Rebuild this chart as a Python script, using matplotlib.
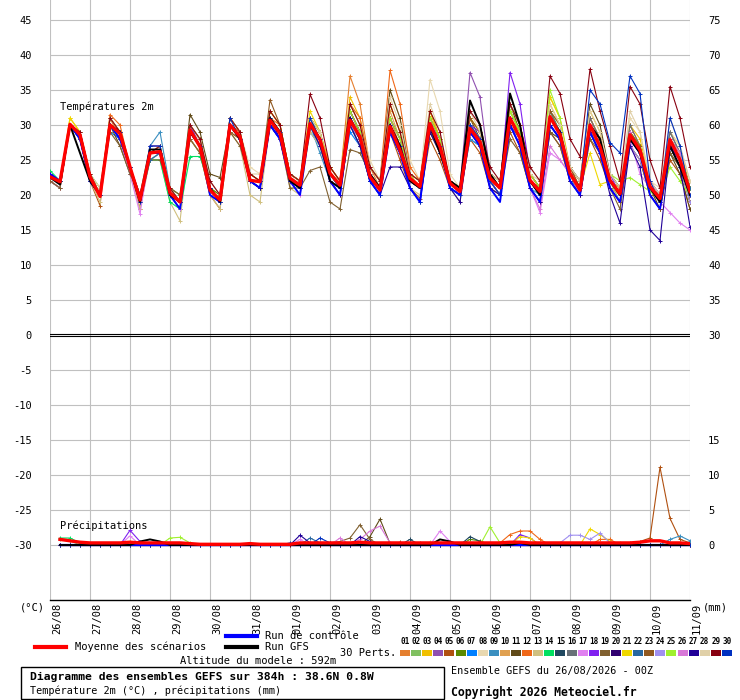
import numpy as np
import matplotlib
matplotlib.use("Agg")
import matplotlib.pyplot as plt
from matplotlib.lines import Line2D
from matplotlib.patches import Rectangle
from matplotlib.transforms import ScaledTranslation

plt.rcParams['font.family'] = ['DejaVu Sans Mono']

# ---- data -------------------------------------------------------------
hours = np.arange(65) * 6
day_labels = ['26/08', '27/08', '28/08', '29/08', '30/08', '31/08', '01/09', '02/09',
              '03/09', '04/09', '05/09', '06/09', '07/09', '08/09', '09/09', '10/09', '11/09']

pert_colors = ['#E57F2F', '#80C060', '#F0C000', '#9050B0', '#B05010', '#5A8A00', '#0080FF',
               '#E8D8B0', '#3A8FC0', '#E0A050', '#604A18', '#F06818', '#D0C080', '#00E060',
               '#204860', '#687078', '#E080F0', '#8020F0', '#806030', '#300070', '#F0D800',
               '#2868A0', '#905820', '#A090F0', '#A0F030', '#D878D8', '#200098', '#E0D0A8',
               '#880010', '#0030C0']

temp_mean = [22.6, 21.9, 30.1, 28.6, 22.6, 19.8, 30.0, 28.8, 24.0, 19.3, 26.0, 26.2, 20.3, 19.0,
             29.3, 26.9, 20.7, 19.3, 30.0, 28.3, 22.1, 21.9, 30.7, 28.8, 22.4, 21.4, 30.2, 27.9,
             23.1, 21.4, 30.7, 28.3, 22.6, 20.7, 29.8, 26.4, 22.4, 21.2, 30.2, 26.9, 21.7, 20.5,
             29.5, 27.6, 22.4, 21.0, 31.0, 28.1, 22.1, 20.5, 31.2, 28.6, 23.1, 20.7, 30.0, 26.9,
             22.1, 20.2, 28.6, 26.4, 21.2, 19.5, 27.9, 25.0, 20.5]

temp_ctrl = [23, 22, 30, 28, 22, 20, 30, 28, 24, 19, 26, 26, 20, 18, 29, 27, 20, 19, 30, 28,
             22, 21, 30, 28, 22, 20, 30, 28, 22, 20, 31, 28, 22, 20, 29, 26, 21, 19, 30, 27,
             21, 20, 29, 27, 21, 19, 30, 27, 21, 19, 30, 28, 22, 20, 29, 26, 21, 19, 28, 26,
             20, 18, 27, 25, 20]

temp_gfs = [22.5, 21.5, 30, 26, 22, 20, 30, 29, 24, 19, 26.5, 26.5, 20, 19, 29, 27, 21, 19, 30, 28,
            22, 22, 31, 29, 22, 21, 30, 28, 22, 21, 31, 28, 23, 21, 30, 27, 22, 21, 30, 26,
            22, 21, 33.5, 30, 23, 21, 34.5, 30, 22, 20, 31, 29, 23, 21, 30, 28, 22, 20, 28, 26,
            21, 19, 27, 24, 20]

temp_perts = [
    [23, 22, 30, 29, 22, 20, 31, 28, 24, 19, 26, 27, 20, 18, 30, 27, 21, 19, 31, 29, 22, 21, 31, 29, 23, 22, 31, 29, 24, 22, 37, 33, 24, 21, 31, 27, 23, 22, 31, 28, 22, 21, 30, 28, 23, 21, 32, 29, 23, 21, 32, 29, 24, 21, 31, 28, 23, 21, 30, 27, 22, 20, 28, 25, 21],
    [23, 22, 30, 28, 23, 20, 30, 28, 24, 19, 25, 26, 21, 19, 28, 26, 20, 19, 29, 28, 22, 21, 30, 28, 22, 21, 30, 28, 22, 21, 31, 29, 23, 21, 29, 26, 22, 21, 29, 27, 21, 20, 30, 28, 22, 20, 30, 27, 22, 20, 30, 28, 23, 20, 29, 26, 22, 19, 29, 27, 21, 19, 26, 24, 19],
    [23, 22, 31, 29, 23, 20, 31, 29, 24, 20, 27, 27, 20, 19, 30, 28, 21, 20, 31, 29, 23, 22, 32, 30, 23, 22, 31, 29, 23, 22, 34, 31, 24, 22, 33, 29, 23, 22, 32, 28, 22, 21, 31, 29, 23, 22, 33, 30, 23, 21, 34, 31, 24, 22, 32, 29, 22, 21, 30, 28, 22, 20, 29, 27, 21],
    [22, 21, 30, 28, 22, 20, 30, 29, 23, 19, 26, 26, 20, 19, 29, 27, 21, 19, 30, 28, 22, 22, 31, 29, 22, 21, 30, 28, 23, 21, 32, 29, 23, 21, 30, 27, 22, 21, 31, 28, 22, 21, 37.5, 34, 23, 21, 31, 28, 22, 20, 31, 29, 23, 21, 30, 27, 22, 20, 29, 26, 21, 19, 28, 25, 20],
    [22, 21, 30, 29, 22, 18.5, 31, 29, 24, 18, 26, 26, 20, 18, 28, 26, 20, 18, 29, 28, 22, 21, 30, 28, 22, 21, 30, 27, 22, 20, 30, 27, 22, 20, 29, 25, 21, 19.5, 28, 25, 21, 20, 28, 26, 21, 20, 29, 26, 21, 19, 29, 27, 22, 20, 28, 25, 21, 19, 27, 25, 20, 18, 25, 23, 18],
    [23, 22, 30, 28, 23, 21, 30, 28, 24, 20, 26, 26, 21, 20, 29, 27, 21, 20, 30, 28, 22, 22, 30, 29, 22, 21, 30, 28, 23, 21, 31, 28, 23, 21, 30, 27, 22, 21, 30, 27, 22, 21, 29, 28, 22, 21, 31, 28, 22, 20, 32, 30, 23, 21, 31, 28, 22, 20, 28, 26, 21, 19, 27, 25, 19],
    [23, 22, 30, 28, 22, 20, 29, 28, 23, 19, 25, 26, 20, 19, 30, 27, 21, 19, 30, 28, 22, 22, 30, 28, 22, 21, 29, 27, 23, 21, 29, 27, 22, 20, 29, 26, 22, 21, 30, 26, 22, 21, 28, 27, 22, 20, 31, 28, 22, 20, 30, 28, 23, 21, 29, 26, 22, 20, 28, 26, 21, 19, 27, 24, 20],
    [23, 22, 30, 29, 23, 21, 31, 29, 24, 19, 25, 26, 21, 19, 29, 28, 22, 20, 30, 29, 24, 23, 31, 29, 23, 22, 31, 29, 23, 21, 33, 30, 25, 22, 35, 31, 25, 22, 36.5, 32, 23, 21, 30, 28, 23, 22, 31, 29, 24, 22, 32, 30, 24, 22, 31, 28, 23, 21, 31, 29, 22, 21, 29, 27, 22],
    [23, 22, 30, 28, 22, 20, 30, 28, 24, 20, 27, 29, 21, 19, 29, 27, 21, 19, 30, 28, 22, 22, 30, 28, 22, 21, 30, 26, 22, 21, 30, 27, 22, 21, 29, 26, 22, 21, 29, 26, 21, 20, 28, 27, 22, 21, 30, 27, 21, 20, 30, 28, 22, 21, 29, 27, 22, 20, 28, 26, 21, 20, 29, 26, 21],
    [23, 22, 30, 29, 23, 20, 30, 28, 24, 19, 26, 27, 20, 18, 29, 27, 21, 19, 30, 28, 22, 22, 31, 29, 22, 21, 31, 28, 23, 21, 32, 29, 23, 21, 32, 28, 22, 21, 31, 28, 22, 20, 30, 29, 22, 21, 32, 29, 22, 21, 33, 30, 23, 21, 30, 27, 21, 20, 29, 27, 21, 19, 29, 26, 20],
    [22, 21, 30, 28, 22, 20, 30, 27, 23, 19, 26, 26, 21, 19, 31.5, 29, 23, 22.5, 30, 29, 22, 22, 31, 29, 23, 22, 31, 28, 24, 22, 32, 29, 24, 22, 35, 31, 23, 22, 30, 27, 22, 20, 31, 28, 23, 22, 33, 29, 22, 21, 29, 28, 24, 22, 33, 30, 23, 21, 29, 26, 21, 18, 26, 23, 18],
    [23, 22, 30, 29, 22, 20, 31.5, 30, 24, 19, 26, 26, 20, 19, 29, 27, 21, 19, 30, 29, 22, 22, 31, 30, 23, 22, 31, 29, 23, 21, 33, 31, 24, 22, 37.8, 33, 24, 22, 32, 28, 22, 21, 31, 29, 23, 21, 31, 29, 23, 21, 31, 29, 24, 21, 31, 28, 22, 20, 29, 26, 21, 19, 28, 25, 19],
    [22, 21, 30, 28, 22, 19, 30, 28, 23, 18, 25, 25, 19, 16.3, 28, 26, 20, 18, 29, 27, 20, 19, 30, 28, 21, 20, 29, 27, 22, 20, 30, 27, 22, 20, 29, 26, 21, 20, 29, 26, 21, 19, 29, 27, 22, 20, 30, 27, 22, 20, 31, 29, 23, 21, 30, 27, 22, 20, 28, 26, 21, 20, 28, 25, 20],
    [23.5, 22, 30, 29, 23, 20, 30, 28, 24, 19, 25, 25, 19, 18, 25.5, 25.5, 21, 19, 30, 28, 22, 21, 30, 28, 22, 21, 30, 28, 23, 21, 31, 28, 22, 21, 30, 27, 22, 21, 30, 27, 22, 20, 30, 28, 22, 21, 32, 29, 22, 20, 32, 29, 23, 21, 30, 27, 22, 20, 29, 27, 21, 19, 28, 26, 21],
    [23, 22, 30, 28, 23, 20, 30, 28, 24, 19, 26, 26, 20, 19, 29, 27, 21, 19, 30, 28, 22, 21, 30, 28, 22, 21, 30, 28, 23, 21, 30, 28, 22, 21, 30, 27, 22, 21, 29, 27, 22, 20, 29, 28, 22, 21, 31, 28, 22, 21, 31, 29, 23, 20, 30, 27, 22, 20, 29, 26, 21, 19, 28, 26, 21],
    [23, 22, 30, 28, 23, 20, 30, 28, 24, 19, 26, 26, 21, 19, 29, 27, 21, 19, 30, 28, 22, 22, 31, 29, 22, 21, 30, 28, 23, 21, 31, 28, 23, 21, 30, 27, 22, 21, 30, 27, 22, 20, 30, 28, 22, 21, 31, 28, 22, 21, 32, 29, 24, 22, 31, 28, 23, 21, 30, 27, 21, 20, 29, 26, 21],
    [22, 21, 30, 28, 22, 20, 30, 28, 23, 17.3, 26, 27, 20, 18, 29, 27, 21, 19, 30, 28, 22, 22, 31, 29, 22, 20, 30, 28, 23, 21, 31, 28, 23, 21, 31, 28, 22, 21, 31, 27, 22, 20, 30, 28, 22, 21, 30, 27, 21, 17.5, 26, 25, 23, 20, 30, 27, 22, 20, 28, 23, 21, 19, 17.5, 16, 15],
    [23, 22, 30, 28, 22, 20, 30, 29, 24, 19, 27, 27, 20, 19, 30, 27, 21, 19, 30, 28, 22, 22, 31, 29, 22, 21, 31, 29, 23, 21, 32, 29, 23, 21, 31, 28, 22, 21, 30, 28, 22, 20, 30, 29, 23, 21, 37.5, 33, 23, 21, 31, 29, 23, 21, 30, 28, 23, 20, 29, 26, 22, 20, 28, 26, 20],
    [22, 21, 30, 28, 22, 20, 29, 27, 23, 20, 25, 25, 21, 20, 28, 26, 21, 19, 29, 27, 22, 21, 30, 28, 21, 21, 23.5, 24, 19, 18, 26.5, 26, 23, 21, 29, 26, 22, 21, 29, 26, 22, 20, 29, 27, 22, 20, 28, 26, 21, 19, 29, 27, 22, 20, 28, 26, 21, 18, 27, 25, 20, 18, 26, 24, 19],
    [23, 22, 30, 28, 23, 20, 30, 28, 24, 19, 26, 26, 20, 19, 29, 27, 21, 19, 30, 28, 22, 22, 31, 28, 22, 21, 30, 28, 23, 21, 31, 28, 22, 21, 30, 26, 22, 21, 30, 27, 22, 20, 29, 27, 22, 20, 31, 28, 22, 20, 31, 29, 23, 21, 30, 27, 22, 20, 28, 26, 21, 19, 28, 25, 20],
    [23, 22, 31, 29, 23, 20, 31, 29, 24, 19, 26, 27, 21, 19, 30, 28, 21, 19, 31, 29, 23, 22, 32, 30, 23, 22, 32, 29, 24, 22, 33, 30, 24, 22, 33, 29, 23, 22, 32, 28, 22, 21, 31, 29, 23, 21, 32, 29, 23, 21, 34, 31, 23, 21, 26, 21.5, 22, 20, 29, 27, 21, 20, 28, 26, 21],
    [23, 22, 30, 28, 22, 20, 30, 28, 24, 19, 25, 26, 20, 19, 29, 27, 21, 19, 30, 28, 22, 21, 30, 28, 22, 21, 30, 27, 23, 21, 30, 27, 22, 21, 29, 26, 22, 21, 30, 26, 22, 20, 30, 28, 22, 21, 30, 28, 22, 20, 30, 28, 23, 21, 29, 27, 22, 20, 29, 26, 21, 20, 28, 25, 21],
    [23, 22, 30, 29, 23, 20, 31, 29, 24, 19, 26, 26, 20, 19, 30, 28, 21, 19, 31, 29, 23, 22, 33.6, 30, 23, 22, 31, 29, 23, 21, 32, 29, 23, 21, 31, 28, 23, 22, 31, 28, 22, 21, 31, 29, 23, 21, 33, 30, 23, 21, 32, 30, 24, 21, 30, 28, 22, 20, 29, 27, 20, 18, 27, 25, 19],
    [23, 22, 30, 28, 23, 20, 30, 28, 24, 19, 26, 26, 20, 19, 29, 27, 21, 19, 30, 28, 22, 22, 30, 28, 22, 21, 30, 28, 22, 21, 30, 28, 23, 21, 30, 26, 22, 21, 30, 27, 22, 20, 29, 27, 22, 21, 31, 28, 22, 20, 31, 29, 23, 21, 29, 26, 22, 20, 27, 25, 21, 19, 27, 24, 19],
    [23, 22, 30, 28, 23, 20, 30, 28, 24, 19, 26, 26, 20, 19, 29, 27, 21, 19, 30, 28, 22, 22, 31, 29, 23, 22, 31, 29, 23, 21, 32, 29, 23, 21, 31, 28, 23, 21, 31, 28, 22, 21, 30, 28, 22, 21, 32, 29, 23, 21, 35, 31, 23, 21, 29, 27, 23, 22, 22.5, 21.5, 20.5, 19.5, 24, 22, 20],
    [23, 22, 30, 28, 22, 20, 30, 28, 24, 19, 26, 26, 20, 19, 29, 27, 21, 19, 30, 28, 22, 22, 30, 28, 22, 21, 30, 28, 23, 21, 31, 28, 23, 21, 30, 27, 22, 21, 30, 27, 22, 20, 30, 28, 22, 20, 30, 27, 21, 18, 27, 25, 23, 21, 30, 27, 22, 20, 29, 26, 21, 19, 28, 26, 20],
    [23, 22, 30, 28, 22, 20, 30, 28, 24, 19, 26, 26, 20, 19, 29, 27, 21, 19, 30, 28, 22, 21, 30, 28, 22, 21, 30, 27, 22, 20, 30, 27, 22, 20, 24, 24, 21, 19, 29, 26, 21, 19, 29, 27, 21, 20, 30, 27, 21, 19, 30, 28, 22, 20, 29, 26, 20, 16, 27, 24, 15, 13.5, 27, 24, 15.5],
    [23, 22, 30, 29, 23, 20, 31, 29, 24, 19, 26, 27, 21, 19, 30, 28, 22, 20, 31, 29, 23, 23, 31, 29, 23, 22, 31, 29, 23, 22, 33, 30, 24, 22, 34, 30, 23, 22, 33, 29, 22, 21, 32, 29, 23, 22, 33, 30, 23, 22, 33, 30, 24, 22, 32, 29, 23, 21, 32, 29, 22, 20, 31, 27, 22],
    [23, 22, 30, 29, 23, 20, 31, 29, 24, 20, 26, 27, 21, 19, 30, 28, 22, 20, 31, 29, 23, 22, 32, 30, 23, 22, 34.4, 31, 24, 22, 33, 30, 24, 22, 33, 29, 23, 22, 32, 29, 22, 21, 32, 30, 24, 22, 33, 30, 24, 22, 37, 34.5, 28, 25.5, 38, 32, 27, 22, 35.5, 33, 25, 21, 35.5, 31, 24],
    [23, 22, 30, 28, 22, 20, 30, 29, 24, 19, 27, 27, 20, 19, 29, 27, 21, 19, 31, 28, 22, 22, 31, 29, 22, 21, 31, 28, 23, 21, 31, 28, 22, 20, 30, 27, 21, 19, 30, 27, 21, 20, 30, 28, 22, 20, 31, 28, 22, 20, 31, 29, 23, 21, 35, 33, 27.5, 26, 37, 34.5, 22, 19, 31, 27, 20],
]

# precipitation (mm per 6h), steps 1..64; only the non-zero steps of each pert
precip_events = {
    1: {36: 0.3, 40: 0.5, 46: 0.3},
    2: {1: 0.8, 2: 0.6},
    3: {40: 0.3},
    5: {58: 0.3, 59: 0.5, 60: 1.0, 61: 11.1, 62: 3.8, 63: 0.8, 64: 0.3},
    6: {42: 0.8, 43: 0.6},
    9: {62: 0.8, 63: 1.3, 64: 0.6},
    10: {8: 0.5},
    11: {32: 1.2, 33: 3.7, 34: 0.2},
    12: {43: 0.5, 45: 0.3, 46: 1.5, 47: 2.0, 48: 2.0, 49: 0.8, 55: 0.8, 56: 0.8},
    13: {38: 0.4},
    14: {1: 1.0, 2: 1.0, 3: 0.3},
    15: {36: 0.8, 42: 1.2, 43: 0.5},
    17: {8: 1.3, 25: 0.8, 39: 2.0, 40: 0.5},
    18: {8: 2.1, 9: 0.5, 47: 1.5, 48: 1.0},
    19: {28: 0.3, 29: 0.5, 30: 1.0, 31: 2.9, 32: 0.8},
    21: {47: 1.2, 48: 1.0, 54: 2.3, 55: 1.5, 56: 0.5},
    22: {26: 1.0, 27: 0.3},
    23: {35: 0.4, 37: 0.3},
    24: {51: 0.3, 52: 1.4, 53: 1.4, 54: 0.8, 55: 1.7, 56: 0.3},
    25: {12: 1.0, 13: 1.1, 14: 0.3, 44: 2.6, 45: 0.3, 57: 0.3},
    26: {29: 1.0, 31: 0.8, 32: 2.0, 33: 2.7, 34: 0.3},
    27: {25: 1.4, 26: 0.3, 31: 1.2, 32: 0.5},
    30: {24: 0.3, 27: 1.0, 28: 0.3},
}
precip_gfs_events = {9: 0.5, 10: 0.8, 11: 0.5, 39: 0.8, 40: 0.5, 47: 0.3}
precip_mean = [0.8, 0.6, 0.4, 0.3, 0.3, 0.3, 0.3, 0.4, 0.3, 0.3, 0.3, 0.3, 0.3, 0.2, 0.1, 0.1,
               0.1, 0.1, 0.1, 0.2, 0.1, 0.1, 0.1, 0.1, 0.3, 0.3, 0.3, 0.3, 0.3, 0.3, 0.4, 0.3,
               0.3, 0.3, 0.3, 0.3, 0.3, 0.3, 0.3, 0.3, 0.3, 0.3, 0.3, 0.3, 0.3, 0.4, 0.4, 0.3,
               0.3, 0.3, 0.3, 0.3, 0.3, 0.3, 0.3, 0.3, 0.3, 0.3, 0.4, 0.6, 0.6, 0.3, 0.3, 0.2]

left_ticks = list(range(-30, 50, 5))
right_ticks = [45, 40, 35, 30, 25, 20, 15, 10, 5, 0, -15, -20, -25, -30]
right_labels = ['75', '70', '65', '60', '55', '50', '45', '40', '35', '30', '15', '10', '5', '0']

PRECIP_BASE = -30

# ---- figure -----------------------------------------------------------
W, H = 740, 700
fig = plt.figure(figsize=(W / 100, H / 100), dpi=100)
fig.patch.set_facecolor('white')


def fx(x):
    return x / W


def fy(y):
    return 1 - y / H


ax = fig.add_axes([fx(50), fy(600), fx(640), 600 / H])
ax.set_xlim(0, 384)
ax.set_ylim(45 - 580 / 7, 45 + 20 / 7)
for s in ['left', 'right', 'top']:
    ax.spines[s].set_visible(False)
ax.spines['bottom'].set_color('black')
ax.spines['bottom'].set_linewidth(1.0)

# grid
for v in left_ticks:
    if v != 0:
        ax.axhline(v, color='#C0C0C0', lw=0.8, zorder=0)
for d in range(17):
    ax.axvline(d * 24, color='#C0C0C0', lw=0.8, zorder=0)
ax.axhline(0.16, color='black', lw=0.8, zorder=1)
ax.axhline(-0.16, color='black', lw=0.8, zorder=1)

# temperature spaghetti
for i, row in enumerate(temp_perts):
    ax.plot(hours, row, color=pert_colors[i], lw=0.8, marker='+', ms=3, mew=0.7, zorder=2)
ax.plot(hours, temp_ctrl, color='#0000FF', lw=1.4, zorder=3)
ax.plot(hours, temp_gfs, color='black', lw=1.4, zorder=3)
ax.plot(hours, temp_mean, color='#FF0000', lw=2.4, zorder=4)

# precipitation
ph = hours[1:]
for i in range(30):
    ev = precip_events.get(i + 1, {})
    vals = np.array([ev.get(k, 0.0) for k in range(1, 65)])
    ax.plot(ph, PRECIP_BASE + vals, color=pert_colors[i], lw=0.8, marker='+', ms=3, mew=0.7,
            zorder=2)
ax.plot(ph, PRECIP_BASE + np.zeros(64), color='#0000FF', lw=1.6, zorder=3)
gfs_p = np.array([precip_gfs_events.get(k, 0.0) for k in range(1, 65)])
ax.plot(ph, PRECIP_BASE + gfs_p, color='black', lw=1.4, zorder=3)
ax.plot(ph, PRECIP_BASE + np.array(precip_mean), color='#FF0000', lw=2.4, zorder=4)

ax.text(60 * 384 / 640 - 60 * 0 + 0, 33, '', fontsize=1)
ax.text(10 * 384 / 640 * 1.0, 32.6, 'Températures 2m', fontsize=7.5, va='center', ha='left')
ax.text(10 * 384 / 640 * 1.0, -27.3, 'Précipitations', fontsize=7.5, va='center', ha='left')

# left ticks
ax.set_yticks(left_ticks)
ax.set_yticklabels([str(v) for v in left_ticks])
ax.tick_params(axis='y', length=0, pad=13, labelsize=7.5)

# right ticks
ax2 = ax.twinx()
ax2.set_ylim(ax.get_ylim())
for s in ['left', 'right', 'top', 'bottom']:
    ax2.spines[s].set_visible(False)
ax2.set_yticks(right_ticks)
ax2.set_yticklabels(right_labels)
ax2.tick_params(axis='y', length=0, pad=13, labelsize=7.5)

# date ticks
ax.set_xticks([d * 24 for d in range(17)])
ax.set_xticklabels(day_labels, rotation=90, fontsize=7.5, va='top', ha='center')
ax.tick_params(axis='x', length=0, pad=2)
off = ScaledTranslation(7 / 100, 0, fig.dpi_scale_trans)
for lbl in ax.get_xticklabels():
    lbl.set_transform(lbl.get_transform() + off)

fig.text(fx(20), fy(607), '(°C)', fontsize=7.5, va='center', ha='left')
fig.text(fx(703), fy(607), '(mm)', fontsize=7.5, va='center', ha='left')

# legend
fig.add_artist(Line2D([fx(35), fx(66)], [fy(647), fy(647)], color='#FF0000', lw=3))
fig.text(fx(75), fy(647), 'Moyenne des scénarios', fontsize=7.5, va='center', ha='left')
fig.add_artist(Line2D([fx(226), fx(257)], [fy(636), fy(636)], color='#0000FF', lw=3))
fig.text(fx(265), fy(636), 'Run de contrôle', fontsize=7.5, va='center', ha='left')
fig.add_artist(Line2D([fx(226), fx(257)], [fy(647), fy(647)], color='black', lw=3))
fig.text(fx(265), fy(647), 'Run GFS', fontsize=7.5, va='center', ha='left')
fig.text(fx(340), fy(653), '30 Perts.', fontsize=7.5, va='center', ha='left')
fig.text(fx(180), fy(661), 'Altitude du modele : 592m', fontsize=7.5, va='center', ha='left')

for i, c in enumerate(pert_colors):
    x0 = 400 + i * 11.1
    fig.add_artist(Rectangle((fx(x0), fy(656)), fx(10), 6 / H, color=c, lw=0))
    fig.text(fx(x0 + 5), fy(642), '%02d' % (i + 1), fontsize=5.5, fontweight='bold',
             va='center', ha='center')

fig.add_artist(Rectangle((fx(20.5), fy(698.5)), fx(423), 32 / H, fill=False,
                         edgecolor='black', lw=1.0))
fig.text(fx(30), fy(677), 'Diagramme des ensembles GEFS sur 384h : 38.6N 0.8W', fontsize=8.2,
         fontweight='bold', va='center', ha='left')
fig.text(fx(30), fy(691), 'Température 2m (°C) , précipitations (mm)', fontsize=7.3,
         va='center', ha='left')
fig.text(fx(451), fy(671), 'Ensemble GEFS du 26/08/2026 - 00Z', fontsize=7.3,
         va='center', ha='left')
fig.text(fx(451), fy(692), 'Copyright 2026 Meteociel.fr', fontsize=8.3, fontweight='bold',
         va='center', ha='left')

fig.savefig('out.png', dpi=100, facecolor='white')
